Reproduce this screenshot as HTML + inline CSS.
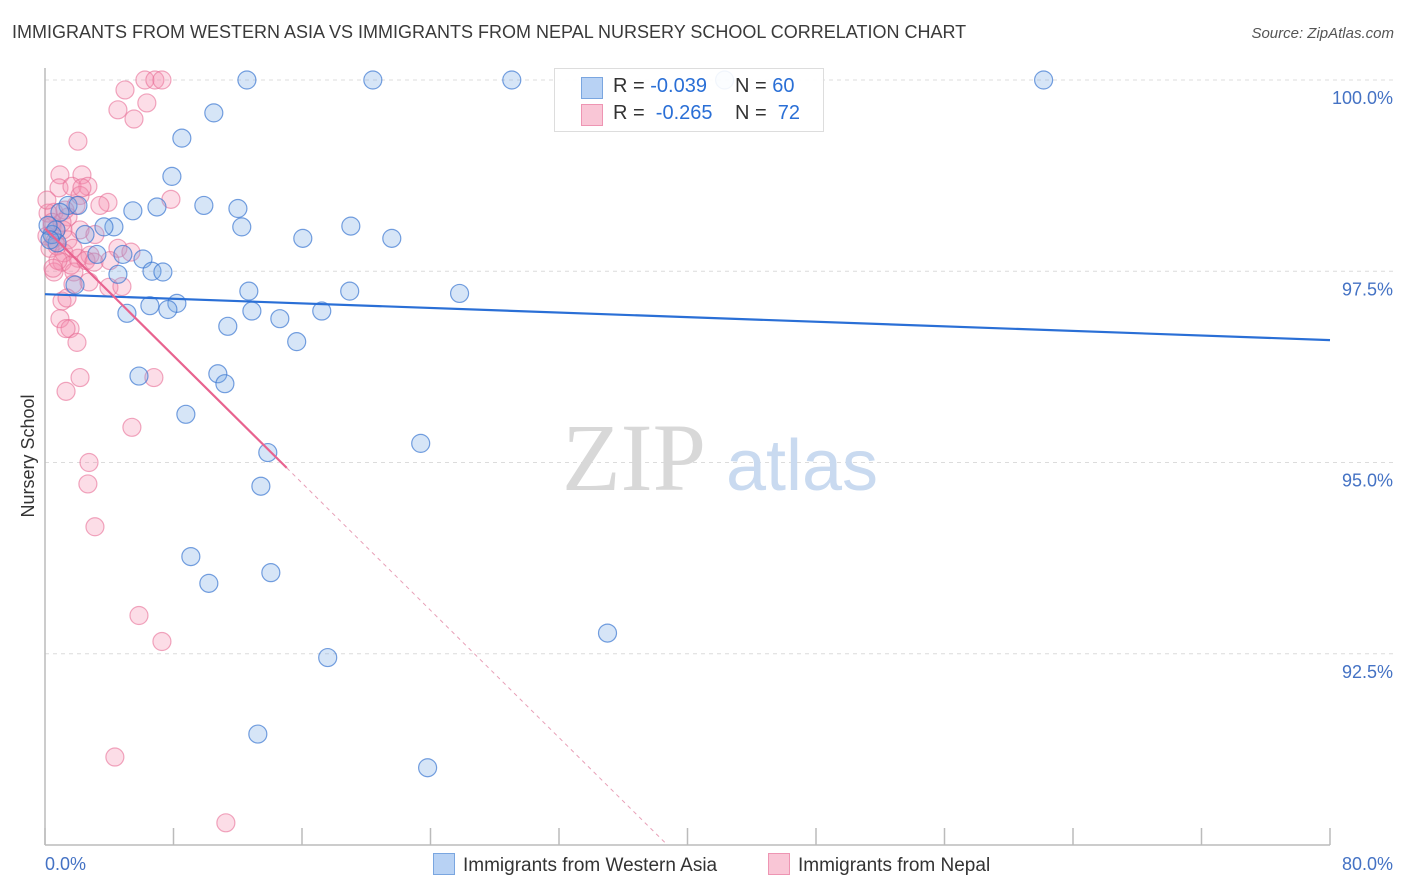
<!DOCTYPE html>
<html><head><meta charset="utf-8">
<style>
body{margin:0;background:#fff;font-family:"Liberation Sans",sans-serif;}
#wrap{position:relative;width:1406px;height:892px;overflow:hidden;}
.t{position:absolute;white-space:nowrap;}
</style></head>
<body>
<div id="wrap">
<div class="t" style="left:12px;top:22px;font-size:18px;color:#3a3a3a;">IMMIGRANTS FROM WESTERN ASIA VS IMMIGRANTS FROM NEPAL NURSERY SCHOOL CORRELATION CHART</div>
<div class="t" style="right:12px;top:25px;font-size:15px;color:#555;font-style:italic;">Source: ZipAtlas.com</div>
<svg id="plot" width="1406" height="892" style="position:absolute;left:0;top:0"></svg>
</div>
<script>
const xTickLabels=["0.0%","80.0%"];
const yTicks=[100,97.5,95,92.5];
const yTickLabels=["100.0%","97.5%","95.0%","92.5%"];
const blueX=[12.57,20.41,29.06,42.31,62.17,10.51,8.52,7.90,9.89,6.97,5.47,12.01,12.25,19.04,16.05,21.59,4.29,3.67,2.49,1.43,2.05,0.68,0.75,4.85,3.23,6.10,6.66,7.34,4.54,1.87,12.69,18.97,25.81,6.53,8.21,7.65,5.10,12.88,14.62,17.23,11.38,15.67,5.85,10.76,11.20,8.77,23.39,13.87,13.44,9.08,10.20,14.06,35.02,17.60,13.25,23.82,0.44,0.93,0.19,0.31];
const blueY=[100,100,100,100,100,99.57,99.24,98.74,98.36,98.34,98.29,98.32,98.08,98.09,97.93,97.93,98.08,98.08,97.98,98.36,98.36,98.04,97.87,97.72,97.72,97.66,97.50,97.49,97.46,97.32,97.24,97.24,97.21,97.05,97.08,97.00,96.95,96.98,96.88,96.98,96.78,96.58,96.13,96.16,96.03,95.63,95.25,95.13,94.69,93.77,93.42,93.56,92.77,92.45,91.45,91.01,97.98,98.27,98.10,97.91];
const pinkX=[6.22,6.84,7.28,4.98,6.34,4.54,5.54,2.05,0.93,2.30,0.87,1.68,2.67,2.18,3.92,7.84,0.56,1.43,0.44,1.12,2.18,3.11,0.12,0.62,1.43,4.54,5.35,2.80,2.05,1.06,1.80,0.56,2.74,3.98,4.79,1.74,1.06,1.37,0.93,1.56,1.31,1.99,2.18,1.31,6.78,5.41,2.74,2.67,3.11,5.85,7.28,4.35,11.26,0.31,0.75,0.19,0.44,0.68,1.18,1.62,2.55,3.05,3.42,2.30,1.93,1.24,0.81,0.50,1.06,1.74,0.12,4.04];
const pinkY=[100,100,100,99.87,99.70,99.61,99.49,99.20,98.76,98.76,98.59,98.61,98.61,98.49,98.40,98.44,98.27,98.21,98.09,98.04,98.04,97.98,97.96,97.89,97.91,97.80,97.75,97.71,97.67,97.62,97.49,97.49,97.36,97.29,97.30,97.33,97.11,97.15,96.88,96.75,96.75,96.57,96.11,95.93,96.11,95.46,95.00,94.72,94.16,93.00,92.66,91.15,90.29,97.80,97.83,98.26,98.14,98.04,97.74,97.58,97.64,97.62,98.36,98.59,98.36,98.30,97.64,97.54,98.14,97.80,98.43,97.64];
const blueTrend=[97.20,96.60];
const pinkTrend=[98.06,-0.208];
const pinkSolidEnd=15.05;

const X0=45,X1=1330,Y0=80,Y1=845,XMIN=0,XMAX=80,YMAX=100,YMIN=90;
const sx=v=>X0+(v-XMIN)/(XMAX-XMIN)*(X1-X0);
const sy=v=>Y0+(YMAX-v)/(YMAX-YMIN)*(Y1-Y0);
const svg=document.getElementById('plot');
const NS='http://www.w3.org/2000/svg';
function mk(tag,attrs){const e=document.createElementNS(NS,tag);for(const k in attrs)e.setAttribute(k,attrs[k]);svg.appendChild(e);return e;}

yTicks.forEach((v,i)=>{
 const g=mk('line',{x1:X0,x2:1393,y1:sy(v),y2:sy(v),stroke:'#dcdcdc','stroke-dasharray':'4,4','stroke-width':1});
 
 
 const t=mk('text',{x:1393,y:sy(v)+24,'text-anchor':'end','font-size':18,fill:'#4472c4'});
 t.textContent=yTickLabels[i];
 
 
});
const ax=mk('line',{x1:X0,x2:X0,y1:68,y2:Y1,stroke:'#bbb','stroke-width':1.5});


const bx=mk('line',{x1:X0,x2:X1,y1:Y1,y2:Y1,stroke:'#bbb','stroke-width':1.5});


for(let i=0;i<=10;i++){
 const tk=mk('line',{x1:sx(i*8),x2:sx(i*8),y1:828,y2:Y1,stroke:'#bbb','stroke-width':1.5});
 
 
}
const xl0=mk('text',{x:45,y:870,'font-size':18,fill:'#4472c4'});xl0.textContent=xTickLabels[0];


const xl1=mk('text',{x:1393,y:870,'text-anchor':'end','font-size':18,fill:'#4472c4'});xl1.textContent=xTickLabels[1];


const yt=mk('text',{x:34,y:456,'text-anchor':'middle','font-size':18,fill:'#333',transform:'rotate(-90 34 456)'});yt.textContent='Nursery School';



const w1=mk('text',{x:634,y:490,'text-anchor':'middle','font-size':96,fill:'#d8d8d8','font-family':'Liberation Serif,serif'});w1.textContent='ZIP';


const w2=mk('text',{x:802,y:490,'text-anchor':'middle','font-size':72,fill:'#c9daf0'});w2.textContent='atlas';



pinkX.forEach((x,i)=>{
 const c=mk('circle',{cx:sx(x),cy:sy(pinkY[i]),r:9,fill:'rgba(244,143,177,0.3)',stroke:'rgba(232,110,150,0.6)','stroke-width':1.2});
 
 
});
blueX.forEach((x,i)=>{
 const c=mk('circle',{cx:sx(x),cy:sy(blueY[i]),r:9,fill:'rgba(120,168,230,0.3)',stroke:'rgba(60,120,210,0.7)','stroke-width':1.2});
 
 
});
const bl=mk('line',{x1:sx(0),y1:sy(blueTrend[0]),x2:sx(80),y2:sy(blueTrend[1]),stroke:'#2a6fd6','stroke-width':2.2});


const pf=x=>pinkTrend[0]+pinkTrend[1]*x;
const pl=mk('line',{x1:sx(0),y1:sy(pf(0)),x2:sx(pinkSolidEnd),y2:sy(pf(pinkSolidEnd)),stroke:'#e8638f','stroke-width':2.2});


const xe=(YMIN-pinkTrend[0])/pinkTrend[1];
const pd=mk('line',{x1:sx(pinkSolidEnd),y1:sy(pf(pinkSolidEnd)),x2:sx(xe),y2:sy(YMIN),stroke:'#e8a0b8','stroke-width':1,'stroke-dasharray':'4,4'});


</script>
<div class="t" style="left:554px;top:68px;width:268px;height:62px;border:1px solid #ddd;background:rgba(255,255,255,0.9);font-size:20px;">
 <div style="position:absolute;left:26px;top:8px;width:20px;height:20px;background:#b8d2f4;border:1px solid #7aa6e0;"></div>
 <div style="position:absolute;left:58px;top:6px;color:#333;">R = <span style="color:#2a6fd6">-0.039</span></div>
 <div style="position:absolute;left:180px;top:6px;color:#333;">N = <span style="color:#2a6fd6">60</span></div>
 <div style="position:absolute;left:26px;top:35px;width:20px;height:20px;background:#f9c6d6;border:1px solid #ee95b3;"></div>
 <div style="position:absolute;left:58px;top:33px;color:#333;">R = &nbsp;<span style="color:#2a6fd6">-0.265</span></div>
 <div style="position:absolute;left:180px;top:33px;color:#333;">N = &nbsp;<span style="color:#2a6fd6">72</span></div>
</div>
<div class="t" style="left:433px;top:853px;font-size:19px;color:#333;">
 <span style="display:inline-block;width:20px;height:20px;background:#b8d2f4;border:1px solid #7aa6e0;vertical-align:-4px;margin-right:8px;"></span>Immigrants from Western Asia</div>
<div class="t" style="left:768px;top:853px;font-size:19px;color:#333;">
 <span style="display:inline-block;width:20px;height:20px;background:#f9c6d6;border:1px solid #ee95b3;vertical-align:-4px;margin-right:8px;"></span>Immigrants from Nepal</div>
</body></html>
